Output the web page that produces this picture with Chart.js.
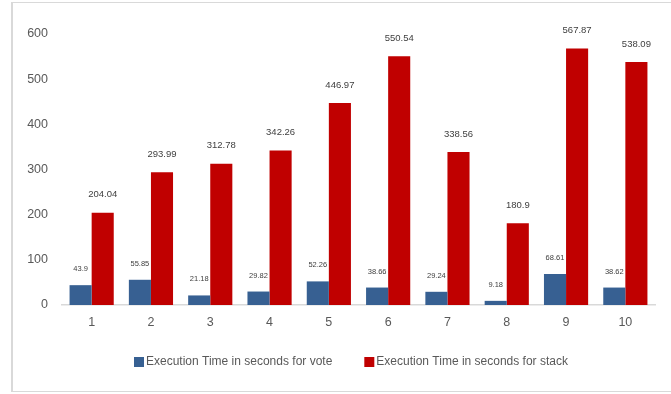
<!DOCTYPE html>
<html>
<head>
<meta charset="utf-8">
<script src="https://cdn.jsdelivr.net/npm/chart.js@4/dist/chart.umd.min.js"></script>
<style>
  html, body { margin: 0; padding: 0; background: #fff; }
  #wrap { position: relative; width: 671px; height: 394px; overflow: hidden; }
  #frame {
    position: absolute; left: 11px; top: 2px; width: 700px; height: 388px;
    border-left: 2px solid #d9d9d9; border-top: 1px solid #d9d9d9; border-bottom: 1px solid #d9d9d9;
  }
  canvas { position: absolute; left: 0; top: 0; }
</style>
</head>
<body>
<div id="wrap">
  <div id="frame"></div>
  <canvas id="chart" width="671" height="394"></canvas>
</div>
<script>
const categories = ['1', '2', '3', '4', '5', '6', '7', '8', '9', '10'];
const voteTimes = [43.9, 55.85, 21.18, 29.82, 52.26, 38.66, 29.24, 9.18, 68.61, 38.62];
const stackTimes = [204.04, 293.99, 312.78, 342.26, 446.97, 550.54, 338.56, 180.9, 567.87, 538.09];
const yTicks = [0, 100, 200, 300, 400, 500, 600];

const fontFamily = "'Liberation Sans', Arial, sans-serif";
const textColor = '#595959';

// etiquetas de valor acima das barras
const valueLabels = {
  id: 'valueLabels',
  afterDatasetsDraw(chart) {
    const c = chart.ctx;
    c.save();
    c.textAlign = 'center';
    c.textBaseline = 'middle';
    c.fillStyle = '#404040';
    chart.data.datasets.forEach(function(ds, i) {
      const meta = chart.getDatasetMeta(i);
      const size = i === 0 ? 7.5 : 9.5;
      const offset = i === 0 ? 16 : 18;
      c.font = size + 'px ' + fontFamily;
      meta.data.forEach(function(bar, j) {
        c.fillText(String(ds.data[j]), bar.x, bar.y - offset);
      });
    });
    c.restore();
  }
};

// legenda desenhada à mão, para acertar os espaçamentos
const bottomLegend = {
  id: 'bottomLegend',
  afterDraw(chart) {
    const c = chart.ctx;
    let x = 134;
    const y = 362;
    c.save();
    c.font = '12px ' + fontFamily;
    c.textBaseline = 'middle';
    c.textAlign = 'left';
    chart.data.datasets.forEach(function(ds) {
      c.fillStyle = ds.backgroundColor;
      c.fillRect(x, y - 5, 10, 10);
      c.fillStyle = textColor;
      c.fillText(ds.label, x + 12, y);
      x += 12 + c.measureText(ds.label).width + 32;
    });
    c.restore();
  }
};

new Chart(document.getElementById('chart'), {
  type: 'bar',
  data: {
    labels: categories,
    datasets: [
      {
        label: 'Execution Time in seconds for vote',
        data: voteTimes,
        backgroundColor: '#376092',
        borderWidth: 0
      },
      {
        label: 'Execution Time in seconds for stack',
        data: stackTimes,
        backgroundColor: '#c00000',
        borderWidth: 0
      }
    ]
  },
  options: {
    responsive: false,
    animation: false,
    layout: { padding: { left: 12, right: 16, top: 34, bottom: 68 } },
    datasets: {
      bar: { barPercentage: 1, categoryPercentage: 0.745 }
    },
    plugins: {
      legend: { display: false },
      tooltip: { enabled: false }
    },
    scales: {
      x: {
        grid: { display: false },
        border: { display: true, color: '#d9d9d9', width: 1.5 },
        ticks: {
          padding: 2,
          color: textColor,
          font: { family: fontFamily, size: 12.5 }
        },
        afterFit(scale) { scale.height = 21; }
      },
      y: {
        min: 0,
        max: 600,
        grid: { display: false },
        border: { display: false },
        afterBuildTicks(scale) { scale.ticks = yTicks.map(v => ({ value: v })); },
        ticks: {
          padding: 6,
          color: textColor,
          font: { family: fontFamily, size: 12.5 }
        },
        afterFit(scale) { scale.width = 50; }
      }
    }
  },
  plugins: [valueLabels, bottomLegend]
});
</script>
</body>
</html>
